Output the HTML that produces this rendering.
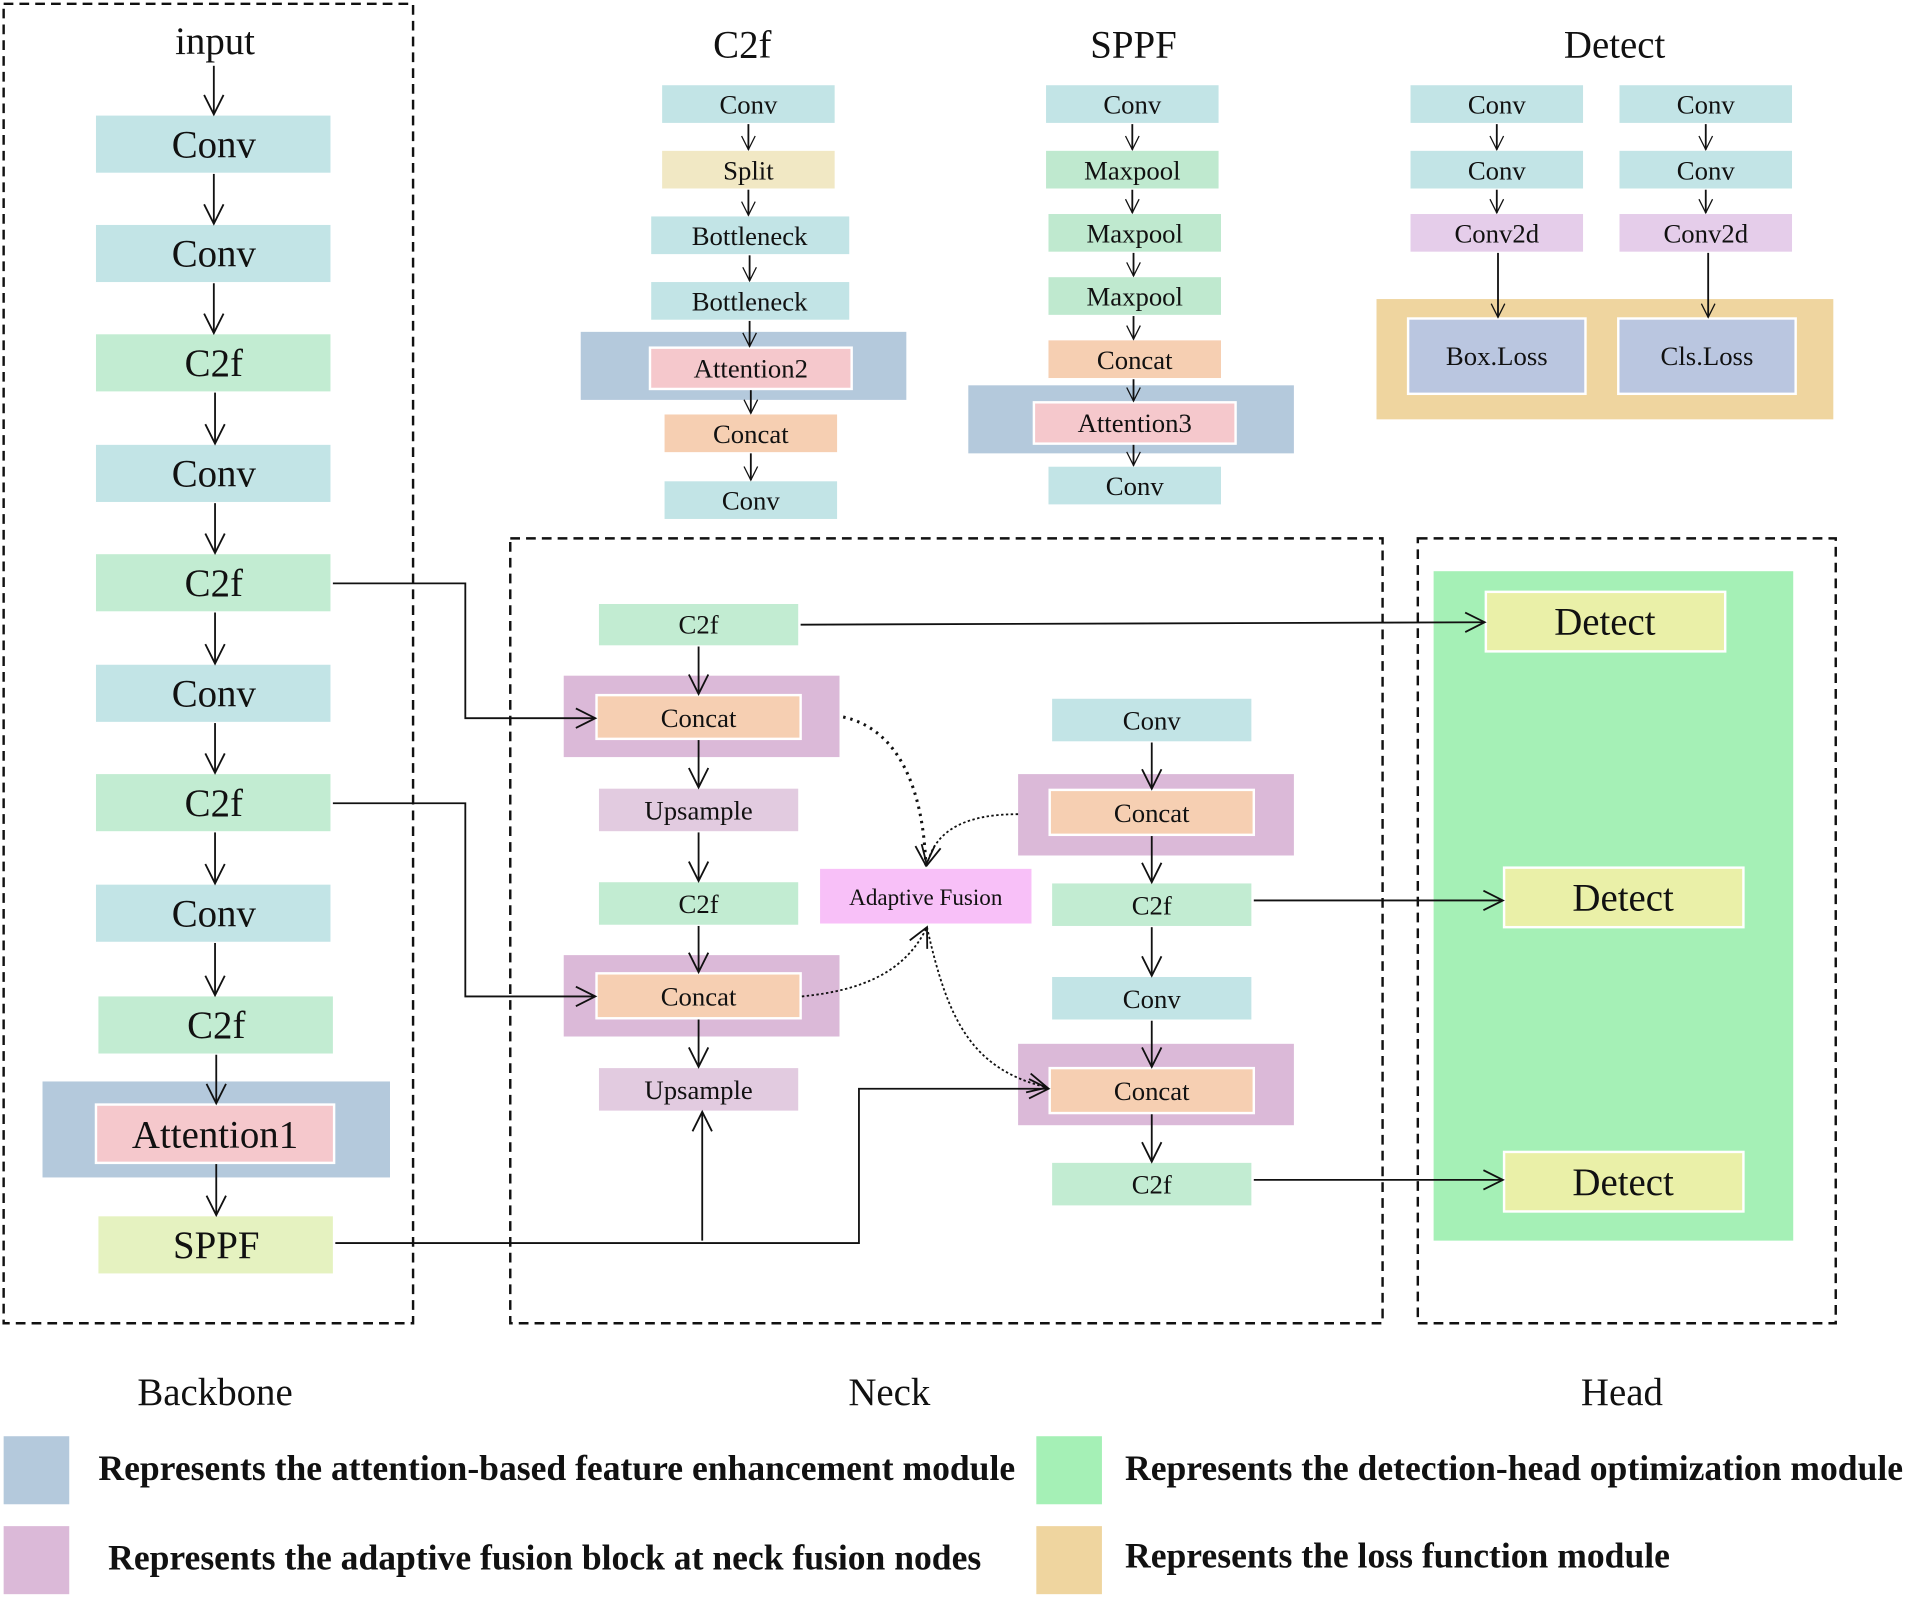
<!DOCTYPE html>
<html><head><meta charset="utf-8"><style>
html,body{margin:0;padding:0;background:#fff;}
svg{display:block;}
text{font-family:"Liberation Serif",serif;fill:#111;text-anchor:middle;dominant-baseline:central;}
.b{font-weight:bold;text-anchor:start;}
</style></head><body>
<svg width="1905" height="1598" viewBox="0 0 1568 1315" xmlns="http://www.w3.org/2000/svg">
<defs>
<marker id="a" viewBox="0 0 20 20" refX="18" refY="10" markerWidth="20" markerHeight="20" markerUnits="userSpaceOnUse" orient="auto"><path d="M2,2 L18,10 L2,18" fill="none" stroke="#111" stroke-width="1.5"/></marker>
<marker id="s" viewBox="0 0 20 20" refX="18" refY="10" markerWidth="14" markerHeight="14" markerUnits="userSpaceOnUse" orient="auto"><path d="M2,2 L18,10 L2,18" fill="none" stroke="#111" stroke-width="1.5"/></marker>
</defs>
<g fill="none" stroke="#111" stroke-width="2" stroke-dasharray="8,5">
<rect x="3" y="3" width="337" height="1086"/>
<rect x="420" y="443" width="718" height="646"/>
<rect x="1167" y="443" width="344" height="646"/>
</g>
<text x="177" y="34" font-size="32">input</text>
<g font-size="32">
<rect x="79" y="95" width="193" height="47" fill="#c2e4e6"/><text x="176" y="119">Conv</text>
<rect x="79" y="185" width="193" height="47" fill="#c2e4e6"/><text x="176" y="209">Conv</text>
<rect x="79" y="275" width="193" height="47" fill="#c2ecd2"/><text x="176" y="299">C2f</text>
<rect x="79" y="366" width="193" height="47" fill="#c2e4e6"/><text x="176" y="390">Conv</text>
<rect x="79" y="456" width="193" height="47" fill="#c2ecd2"/><text x="176" y="480">C2f</text>
<rect x="79" y="547" width="193" height="47" fill="#c2e4e6"/><text x="176" y="571">Conv</text>
<rect x="79" y="637" width="193" height="47" fill="#c2ecd2"/><text x="176" y="661">C2f</text>
<rect x="79" y="728" width="193" height="47" fill="#c2e4e6"/><text x="176" y="752">Conv</text>
<rect x="81" y="820" width="193" height="47" fill="#c2ecd2"/><text x="178" y="844">C2f</text>
<rect x="35" y="890" width="286" height="79" fill="#b4c9dc"/>
<rect x="79" y="909" width="196" height="48" fill="#f5c8cc" stroke="#fff" stroke-width="2"/><text x="177" y="934">Attention1</text>
<rect x="81" y="1001" width="193" height="47" fill="#e5f2c0"/><text x="178" y="1025">SPPF</text>
</g>
<g stroke="#111" stroke-width="1.5" fill="none" marker-end="url(#a)">
<line x1="176" y1="54" x2="176" y2="94"/>
<line x1="176" y1="143" x2="176" y2="184"/>
<line x1="176" y1="233" x2="176" y2="274"/>
<line x1="177" y1="323" x2="177" y2="365"/>
<line x1="177" y1="414" x2="177" y2="455"/>
<line x1="177" y1="504" x2="177" y2="546"/>
<line x1="177" y1="595" x2="177" y2="636"/>
<line x1="177" y1="685" x2="177" y2="727"/>
<line x1="177" y1="776" x2="177" y2="819"/>
<line x1="178" y1="868" x2="178" y2="908"/>
<line x1="178" y1="958" x2="178" y2="1000"/>
</g>
<g font-size="22">
<text x="611" y="37" font-size="32">C2f</text>
<rect x="545" y="70" width="142" height="31" fill="#c2e4e6"/><text x="616" y="86">Conv</text>
<rect x="545" y="124" width="142" height="31" fill="#f1e8c4"/><text x="616" y="140">Split</text>
<rect x="536" y="178" width="163" height="31" fill="#c2e4e6"/><text x="617" y="194">Bottleneck</text>
<rect x="536" y="232" width="163" height="31" fill="#c2e4e6"/><text x="617" y="248">Bottleneck</text>
<rect x="478" y="273" width="268" height="56" fill="#b4c9dc"/>
<rect x="535" y="286" width="166" height="34" fill="#f5c8cc" stroke="#fff" stroke-width="2"/><text x="618" y="303">Attention2</text>
<rect x="547" y="341" width="142" height="31" fill="#f6cfb2"/><text x="618" y="357">Concat</text>
<rect x="547" y="396" width="142" height="31" fill="#c2e4e6"/><text x="618" y="412">Conv</text>
<text x="933" y="37" font-size="32">SPPF</text>
<rect x="861" y="70" width="142" height="31" fill="#c2e4e6"/><text x="932" y="86">Conv</text>
<rect x="861" y="124" width="142" height="31" fill="#bfe9cf"/><text x="932" y="140">Maxpool</text>
<rect x="863" y="176" width="142" height="31" fill="#bfe9cf"/><text x="934" y="192">Maxpool</text>
<rect x="863" y="228" width="142" height="31" fill="#bfe9cf"/><text x="934" y="244">Maxpool</text>
<rect x="863" y="280" width="142" height="31" fill="#f6cfb2"/><text x="934" y="296">Concat</text>
<rect x="797" y="317" width="268" height="56" fill="#b4c9dc"/>
<rect x="851" y="331" width="166" height="34" fill="#f5c8cc" stroke="#fff" stroke-width="2"/><text x="934" y="348">Attention3</text>
<rect x="863" y="384" width="142" height="31" fill="#c2e4e6"/><text x="934" y="400">Conv</text>
<text x="1329" y="37" font-size="32">Detect</text>
<rect x="1161" y="70" width="142" height="31" fill="#c2e4e6"/><text x="1232" y="86">Conv</text>
<rect x="1161" y="124" width="142" height="31" fill="#c2e4e6"/><text x="1232" y="140">Conv</text>
<rect x="1161" y="176" width="142" height="31" fill="#e5cdea"/><text x="1232" y="192">Conv2d</text>
<rect x="1333" y="70" width="142" height="31" fill="#c2e4e6"/><text x="1404" y="86">Conv</text>
<rect x="1333" y="124" width="142" height="31" fill="#c2e4e6"/><text x="1404" y="140">Conv</text>
<rect x="1333" y="176" width="142" height="31" fill="#e5cdea"/><text x="1404" y="192">Conv2d</text>
<rect x="1133" y="246" width="376" height="99" fill="#efd59f"/>
<rect x="1159" y="262" width="146" height="62" fill="#bac6e0" stroke="#fff" stroke-width="2"/><text x="1232" y="293">Box.Loss</text>
<rect x="1332" y="262" width="146" height="62" fill="#bac6e0" stroke="#fff" stroke-width="2"/><text x="1405" y="293">Cls.Loss</text>
</g>
<g stroke="#111" stroke-width="1.5" fill="none" marker-end="url(#s)">
<line x1="616" y1="102" x2="616" y2="123"/><line x1="616" y1="156" x2="616" y2="177"/>
<line x1="617" y1="210" x2="617" y2="231"/><line x1="617" y1="264" x2="617" y2="285"/>
<line x1="618" y1="321" x2="618" y2="340"/><line x1="618" y1="373" x2="618" y2="395"/>
<line x1="932" y1="102" x2="932" y2="123"/><line x1="932" y1="156" x2="932" y2="175"/>
<line x1="933" y1="208" x2="933" y2="227"/><line x1="933" y1="260" x2="933" y2="279"/>
<line x1="933" y1="312" x2="933" y2="330"/><line x1="933" y1="366" x2="933" y2="383"/>
<line x1="1232" y1="102" x2="1232" y2="123"/><line x1="1232" y1="156" x2="1232" y2="175"/>
<line x1="1404" y1="102" x2="1404" y2="123"/><line x1="1404" y1="156" x2="1404" y2="175"/>
<line x1="1233" y1="208" x2="1233" y2="261"/><line x1="1406" y1="208" x2="1406" y2="261"/>
</g>
<rect x="1180" y="470" width="296" height="551" fill="#a5f0b6"/>
<g font-size="32">
<rect x="1223" y="487" width="197" height="49" fill="#eaf0a8" stroke="#fff" stroke-width="2"/><text x="1321" y="512">Detect</text>
<rect x="1238" y="714" width="197" height="49" fill="#eaf0a8" stroke="#fff" stroke-width="2"/><text x="1336" y="739">Detect</text>
<rect x="1238" y="948" width="197" height="49" fill="#eaf0a8" stroke="#fff" stroke-width="2"/><text x="1336" y="973">Detect</text>
</g>
<g font-size="22">
<rect x="493" y="497" width="164" height="34" fill="#c2ecd2"/><text x="575" y="514">C2f</text>
<rect x="464" y="556" width="227" height="67" fill="#dbb9d8"/>
<rect x="491" y="572" width="168" height="36" fill="#f6cfb2" stroke="#fff" stroke-width="2"/><text x="575" y="591">Concat</text>
<rect x="493" y="649" width="164" height="35" fill="#e2cbe0"/><text x="575" y="667">Upsample</text>
<rect x="493" y="726" width="164" height="35" fill="#c2ecd2"/><text x="575" y="744">C2f</text>
<rect x="464" y="786" width="227" height="67" fill="#dbb9d8"/>
<rect x="491" y="801" width="168" height="37" fill="#f6cfb2" stroke="#fff" stroke-width="2"/><text x="575" y="820">Concat</text>
<rect x="493" y="879" width="164" height="35" fill="#e2cbe0"/><text x="575" y="897">Upsample</text>
<rect x="675" y="715" width="174" height="45" fill="#f8c0f8"/><text x="762" y="738" font-size="19">Adaptive Fusion</text>
<rect x="866" y="575" width="164" height="35" fill="#c2e4e6"/><text x="948" y="593">Conv</text>
<rect x="838" y="637" width="227" height="67" fill="#dbb9d8"/>
<rect x="864" y="650" width="168" height="37" fill="#f6cfb2" stroke="#fff" stroke-width="2"/><text x="948" y="669">Concat</text>
<rect x="866" y="727" width="164" height="35" fill="#c2ecd2"/><text x="948" y="745">C2f</text>
<rect x="866" y="804" width="164" height="35" fill="#c2e4e6"/><text x="948" y="822">Conv</text>
<rect x="838" y="859" width="227" height="67" fill="#dbb9d8"/>
<rect x="864" y="879" width="168" height="37" fill="#f6cfb2" stroke="#fff" stroke-width="2"/><text x="948" y="898">Concat</text>
<rect x="866" y="957" width="164" height="35" fill="#c2ecd2"/><text x="948" y="975">C2f</text>
</g>
<g stroke="#111" stroke-width="1.5" fill="none" marker-end="url(#a)">
<line x1="575" y1="532" x2="575" y2="571"/>
<line x1="575" y1="609" x2="575" y2="648"/>
<line x1="575" y1="685" x2="575" y2="725"/>
<line x1="575" y1="762" x2="575" y2="800"/>
<line x1="575" y1="839" x2="575" y2="878"/>
<line x1="948" y1="611" x2="948" y2="649"/>
<line x1="948" y1="688" x2="948" y2="726"/>
<line x1="948" y1="763" x2="948" y2="803"/>
<line x1="948" y1="840" x2="948" y2="878"/>
<line x1="948" y1="917" x2="948" y2="956"/>
<polyline points="274,480 383,480 383,591 490,591"/>
<polyline points="274,661 383,661 383,820 490,820"/>
<polyline points="276,1023 707,1023 707,896 863,896"/>
<line x1="578" y1="1021" x2="578" y2="915"/>
<line x1="659" y1="514" x2="1222" y2="512"/>
<line x1="1032" y1="741" x2="1237" y2="741"/>
<line x1="1032" y1="971" x2="1237" y2="971"/>
</g>
<g stroke="#111" fill="none" marker-end="url(#a)">
<path d="M694,590 C740,600 760,650 762,712" stroke-width="2.5" stroke-dasharray="2,4"/>
<path d="M838,670 C800,670 770,680 763,712" stroke-width="1.5" stroke-dasharray="2,2"/>
<path d="M660,820 C710,815 745,800 763,763" stroke-width="1.5" stroke-dasharray="2,2"/>
<path d="M763,763 C780,840 800,880 862,895" stroke-width="1.5" stroke-dasharray="2,2"/>
</g>
<g font-size="32">
<text x="177" y="1146">Backbone</text>
<text x="732" y="1146">Neck</text>
<text x="1335" y="1146">Head</text>
</g>
<rect x="3" y="1182" width="54" height="56" fill="#b4c9dc"/>
<rect x="3" y="1256" width="54" height="56" fill="#dbb9d8"/>
<rect x="853" y="1182" width="54" height="56" fill="#a5f0b6"/>
<rect x="853" y="1256" width="54" height="56" fill="#efd59f"/>
<g font-size="29.3">
<text class="b" x="81" y="1208">Represents the attention-based feature enhancement module</text>
<text class="b" x="89" y="1282">Represents the adaptive fusion block at neck fusion nodes</text>
<text class="b" x="926" y="1208">Represents the detection-head optimization module</text>
<text class="b" x="926" y="1280">Represents the loss function module</text>
</g>
</svg>
</body></html>
